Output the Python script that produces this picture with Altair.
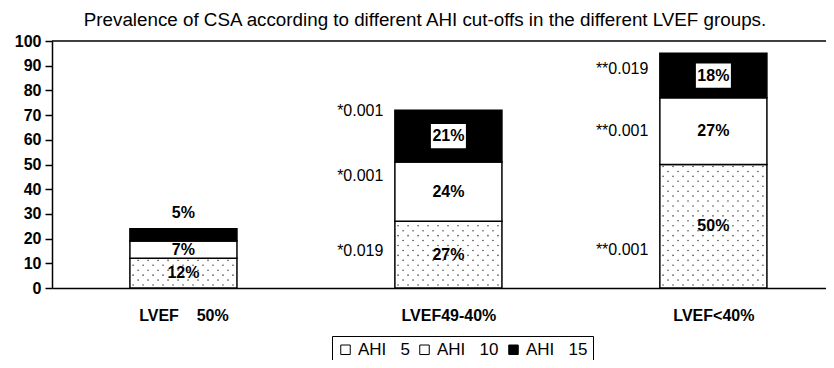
import altair as alt
import pandas as pd
import numpy as np

NB = "\u00a0"
groups = ["LVEF" + NB * 4 + "50%", "LVEF49-40%", "LVEF<40%"]
levels = ["AHI" + NB * 3 + "5", "AHI" + NB * 3 + "10", "AHI" + NB * 3 + "15"]
ahi5 = [12, 27, 50]
ahi10 = [7, 24, 27]
ahi15 = [5, 21, 18]
seg_labels = [["12%", "7%", "5%"], ["27%", "24%", "21%"], ["50%", "27%", "18%"]]
p_group = [1, 1, 1, 2, 2, 2]
p_text = ["*0.019", "*0.001", "*0.001", "**0.001", "**0.001", "**0.019"]
p_y = [15, 45.5, 71.5, 15.5, 63.5, 88.5]
y_ticks = [0, 10, 20, 30, 40, 50, 60, 70, 80, 90, 100]
title_text = "Prevalence of CSA according to different AHI cut-offs in the different LVEF groups."

FONT = "Liberation Sans"
HALF = 0.202

rows = []
for i, g in enumerate(groups):
    vals = [ahi5[i], ahi10[i], ahi15[i]]
    start = 0
    for j, lv in enumerate(levels):
        end = start + vals[j]
        ly = (start + end) / 2 if vals[j] >= 6 else end + 6.5
        rows.append(dict(idx=i, x0=i - HALF, x1=i + HALF, level=lv, start=start, end=end,
                         label=seg_labels[i][j], label_y=ly,
                         boxed=(j == 2 and vals[j] >= 6)))
        start = end
df = pd.DataFrame(rows)

# dotted texture for the AHI 5 segments
dots = []
for i in range(len(groups)):
    for k, yy in enumerate(np.arange(1.2, ahi5[i] - 0.4, 2.0)):
        off = (k % 2) * 0.0189
        for xx in np.arange(i - HALF + 0.012 + off, i + HALF - 0.005, 0.0377):
            dots.append(dict(x=xx, y=yy))
dots_df = pd.DataFrame(dots)

pdf = pd.DataFrame(dict(idx=p_group, text=p_text, y=p_y))

label_expr = " : ".join(f"datum.value == {i} ? '{g}'" for i, g in enumerate(groups)) + " : ''"

xscale = alt.Scale(domain=[-0.496, 2.425], nice=False, zero=False)
yscale = alt.Scale(domain=[0, 100], nice=False)

yaxis = alt.Axis(values=y_ticks, tickCount=11, title=None, grid=False,
                 domainColor="black", domainWidth=1.5, tickColor="black",
                 tickSize=7, tickWidth=1.5, labelFont=FONT, labelFontSize=16,
                 labelFontWeight="bold", labelColor="black", labelPadding=4,
                 labelOverlap=False)
xaxis = alt.Axis(values=[0, 1, 2], labelExpr=label_expr, title=None, ticks=False,
                 grid=False, domainColor="black", domainWidth=1.5,
                 labelFont=FONT, labelFontSize=16, labelFontWeight="bold",
                 labelColor="black", labelPadding=19, labelOverlap=False)


def X(field):
    return alt.X(field, scale=xscale, axis=xaxis)


def Y(field):
    return alt.Y(field, scale=yscale, axis=yaxis)


base = alt.Chart(df)

bars = base.mark_bar(stroke="black", strokeWidth=1.5).encode(
    x=X("x0:Q"),
    x2="x1:Q",
    y=Y("start:Q"),
    y2="end:Q",
    fill=alt.Fill("level:N", scale=alt.Scale(domain=levels, range=["white", "white", "black"]),
                  legend=alt.Legend(title=None, orient="none", legendX=280, legendY=295,
                                    direction="horizontal", symbolType="square",
                                    symbolSize=90, symbolStrokeColor="black",
                                    symbolStrokeWidth=1, labelFont=FONT, labelFontSize=17,
                                    labelColor="black", labelOffset=4, columnPadding=6,
                                    strokeColor="black", padding=5)),
)

top_rule = alt.Chart(pd.DataFrame({"v": [100]})).mark_rule(color="black", strokeWidth=1.5).encode(
    y=Y("v:Q")
)

dot_layer = alt.Chart(dots_df).mark_circle(size=2.5, color="#444", opacity=1).encode(
    x=X("x:Q"), y=Y("y:Q")
)

boxes = base.transform_filter("datum.boxed").mark_point(
    shape="M-1,-0.69L1,-0.69L1,0.69L-1,0.69Z", size=1225, filled=True, fill="white",
    opacity=1, strokeWidth=0
).encode(x=X("idx:Q"), y=Y("label_y:Q"))

seg_text = base.mark_text(font=FONT, fontSize=16, fontWeight="bold", color="black").encode(
    x=X("idx:Q"), y=Y("label_y:Q"), text="label:N"
)

p_layer = alt.Chart(pdf).mark_text(font=FONT, fontSize=16, color="black", align="right",
                                   dx=-65).encode(
    x=X("idx:Q"), y=Y("y:Q"), text="text:N"
)

chart = alt.layer(bars, top_rule, dot_layer, boxes, seg_text, p_layer).properties(
    width=774, height=247,
    title=alt.TitleParams(title_text, font=FONT, fontSize=18.8, fontWeight="normal",
                          color="black", anchor="middle", dx=-14, offset=3),
    autosize=alt.AutoSizeParams(type="none"),
    padding={"left": 44, "top": 33, "right": 0, "bottom": 72},
    background="white",
).configure_view(stroke=None)

chart.save("out.html", embed_options={"renderer": "svg", "actions": False})
